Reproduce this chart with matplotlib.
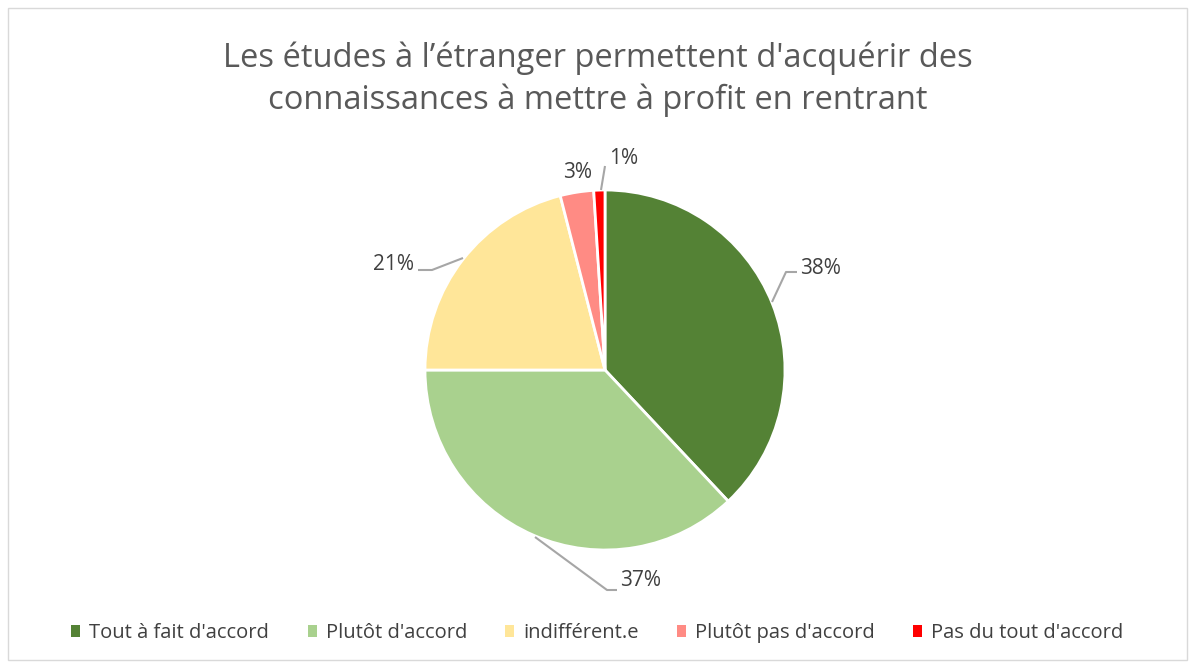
import matplotlib.pyplot as plt
from matplotlib.patches import Rectangle, Patch

labels = ["Tout à fait d'accord", "Plutôt d'accord", "indifférent.e",
          "Plutôt pas d'accord", "Pas du tout d'accord"]
values = [38, 37, 21, 3, 1]
pct_text = ["38%", "37%", "21%", "3%", "1%"]
colors = ["#548235", "#A9D18E", "#FFE699", "#FF8B84", "#FF0000"]

plt.rcParams['font.family'] = ['Open Sans', 'DejaVu Sans']

W, H = 1195, 668
fig = plt.figure(figsize=(W / 100, H / 100), dpi=100)

# pie centre at (605, 370) px, radius 180 px -> 1 data unit
cx, cy, r = 605, 370, 180
ax = fig.add_axes([(cx - 2 * r) / W, (H - cy - 1.5 * r) / H, 4 * r / W, 3 * r / H])

ax.pie(values, colors=colors, startangle=90, counterclock=False, radius=1,
       wedgeprops=dict(edgecolor='white', linewidth=2))
ax.set_xlim(-2, 2)
ax.set_ylim(-1.5, 1.5)
ax.axis('off')


def px(x, y):
    return ((x - cx) / r, (cy - y) / r)


grey = "#A6A6A6"
txt = "#404040"
# leader lines (pixel coords) and label positions
leaders = [
    [(772, 302), (786, 272), (797, 272)],
    [(535, 537), (607, 590), (617, 590)],
    [(463, 258), (432, 270), (418, 270)],
    None,
    [(601, 190), (605, 166)],
]
label_pos = [(800, 268, 'left'), (620, 580, 'left'), (414, 264, 'right'),
             (578, 172, 'center'), (624, 158, 'center')]

for pts, (lx, ly, ha), t in zip(leaders, label_pos, pct_text):
    if pts:
        xs, ys = zip(*[px(*p) for p in pts])
        ax.plot(xs, ys, color=grey, lw=1.5, solid_capstyle='butt')
    x, y = px(lx, ly)
    ax.text(x, y, t, ha=ha, va='center', fontsize=15, color=txt)

fig.text(0.5, (H - 58) / H, "Les études à l’étranger permettent d'acquérir des",
         ha='center', va='center', fontsize=23.5, color="#595959")
fig.text(0.5, (H - 100) / H, "connaissances à mettre à profit en rentrant",
         ha='center', va='center', fontsize=23.5, color="#595959")

handles = [Patch(facecolor=c, edgecolor='none') for c in colors]
fig.legend(handles, labels, loc='center', bbox_to_anchor=(0.5, (H - 633) / H),
           ncol=5, frameon=False, fontsize=14.5, handlelength=0.45, handleheight=0.6,
           handletextpad=0.45, columnspacing=1.9, labelcolor=txt)

fig.patches.append(Rectangle((8 / W, 8 / H), (W - 16) / W, (H - 16) / H,
                             transform=fig.transFigure, fill=False,
                             edgecolor="#D9D9D9", lw=1))

fig.savefig("out.png", dpi=100)
